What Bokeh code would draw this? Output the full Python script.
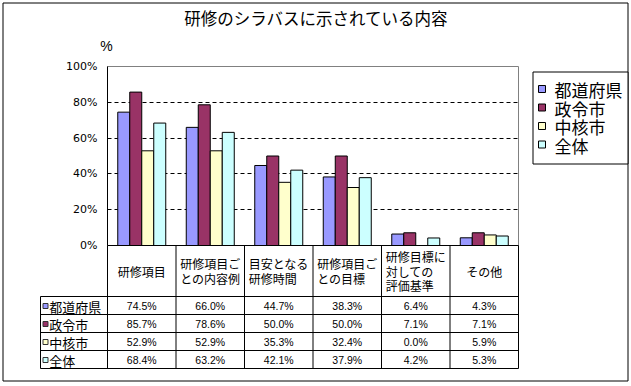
from bokeh.plotting import figure
from bokeh.models import (Range1d, FixedTicker, PrintfTickFormatter, Label, LabelSet,
                          ColumnDataSource)
from bokeh.core.properties import value
from bokeh.embed import file_html
from bokeh.resources import INLINE

# ---------------- data ----------------
title_text = "研修のシラバスに示されている内容"
categories = ["研修項目", "研修項目ご\nとの内容例", "目安となる\n研修時間",
              "研修項目ご\nとの目標", "研修目標に\n対しての\n評価基準", "その他"]
series_names = ["都道府県", "政令市", "中核市", "全体"]
todofuken = [74.5, 66.0, 44.7, 38.3, 6.4, 4.3]
seireishi = [85.7, 78.6, 50.0, 50.0, 7.1, 7.1]
chukakushi = [52.9, 52.9, 35.3, 32.4, 0.0, 5.9]
zentai = [68.4, 63.2, 42.1, 37.9, 4.2, 5.3]
y_ticks = [0, 20, 40, 60, 80, 100]
grid_ticks = [20, 40, 60, 80]
series_values = [todofuken, seireishi, chukakushi, zentai]
series_colors = ["#9999FF", "#993366", "#FFFFCC", "#CCFFFF"]

# ---------------- layout (canvas pixels) ----------------
W, H = 631, 386
FL, FR, FT, FB = 107, 518, 66, 245          # plot area
NC = len(categories)
CAT_W = (FR - FL) / NC
PXU = (FB - FT) / 100.0
HEADER_H = 51
ROW_H = 18
TBL_L = 40
BAR_PX = 12
BAR_W = BAR_PX / CAT_W
LEG_L, LEG_R, LEG_T, LEG_B = 532.5, 627.5, 71.5, 163.5
LEG_ROW = 18.5

def xd(px):
    return (px - FL) / CAT_W

def yd(py):
    return (FB - py) / PXU

JP = "Noto Sans CJK JP"
NUM = "Liberation Sans"

p = figure(width=W, height=H, output_backend="svg", toolbar_location=None,
           x_range=Range1d(xd(0), xd(W)), y_range=Range1d(yd(H), yd(0)),
           x_axis_location=None, min_border=0)
p.min_border_left = 0
p.min_border_right = 0
p.min_border_top = 0
p.min_border_bottom = 0
p.background_fill_color = "white"
p.border_fill_color = "white"
p.outline_line_color = None

# y axis drawn at the plot area's left edge
yax = p.yaxis[0]
yax.fixed_location = 0
yax.bounds = (0, 100)
yax.ticker = FixedTicker(ticks=y_ticks)
yax.formatter = PrintfTickFormatter(format="%d%%")
yax.major_tick_in = 0
yax.major_tick_out = 0
yax.minor_tick_in = 0
yax.minor_tick_out = 0
yax.axis_line_color = "black"
yax.major_label_standoff = 10
yax.major_label_text_font = "DejaVu Sans"
yax.major_label_text_font_size = "11px"
yax.major_label_text_color = "black"

p.xgrid.visible = False
p.ygrid.ticker = FixedTicker(ticks=grid_ticks)
p.ygrid.cross_bounds = (0, NC)
p.ygrid.grid_line_color = "black"
p.ygrid.grid_line_dash = "4 3"
p.ygrid.grid_line_width = 1

# plot area border (grey top / right)
p.quad(left=[0], right=[NC], bottom=[0], top=[100], fill_alpha=0,
       line_color="#808080", line_width=1, level="underlay")

# bars
for j, (name, vals, col) in enumerate(zip(series_names, series_values, series_colors)):
    xs = [i + 0.5 + (j - 1.5) * BAR_W for i in range(NC)]
    src = ColumnDataSource(dict(x=xs, top=vals))
    p.vbar(x="x", top="top", bottom=0, width=BAR_W, source=src,
           fill_color=col, line_color="black", line_width=1)

# data table grid lines
hdr_bottom = FB + HEADER_H
tbl_bottom = hdr_bottom + ROW_H * len(series_names)
x0s, y0s, x1s, y1s = [0], [0], [NC], [0]
for k in range(len(series_names) + 1):
    yy = yd(hdr_bottom + k * ROW_H)
    x0s.append(xd(TBL_L)); x1s.append(NC); y0s.append(yy); y1s.append(yy)
for k in range(NC + 1):
    x0s.append(k); x1s.append(k); y0s.append(0); y1s.append(yd(tbl_bottom))
x0s.append(xd(TBL_L)); x1s.append(xd(TBL_L)); y0s.append(yd(hdr_bottom)); y1s.append(yd(tbl_bottom))
p.segment(x0=x0s, y0=y0s, x1=x1s, y1=y1s, line_color="black", line_width=1)

# outer chart border
p.quad(left=[xd(2.5)], right=[xd(627.5)], top=[yd(2.5)], bottom=[yd(380.5)],
       fill_alpha=0, line_color="black", line_width=1)

# legend (box, swatches, labels)
p.quad(left=[xd(LEG_L)], right=[xd(LEG_R)], top=[yd(LEG_T)], bottom=[yd(LEG_B)],
       fill_color="white", line_color="black", line_width=1)
lg_cy = [LEG_T + 17 + k * LEG_ROW for k in range(len(series_names))]
p.quad(left=[xd(538)] * 4, right=[xd(545)] * 4,
       top=[yd(c - 3.5) for c in lg_cy], bottom=[yd(c + 3.5) for c in lg_cy],
       fill_color=series_colors, line_color="black", line_width=1)
p.add_layout(LabelSet(x="x", y="y", text="t",
                      source=ColumnDataSource(dict(x=[xd(554)] * 4,
                                                   y=[yd(c + 0.5) for c in lg_cy],
                                                   t=series_names)),
                      text_align="left", text_baseline="middle", text_font=value(JP),
                      text_font_size="17px", text_color="black"))

# title & unit
p.add_layout(Label(x=xd(315.7), y=yd(17), text=title_text, text_align="center",
                   text_baseline="middle", text_font=JP, text_font_size="16.5px",
                   text_color="black"))
p.add_layout(Label(x=xd(106), y=yd(45), text="%", text_align="center",
                   text_baseline="middle", text_font=NUM, text_font_size="14px",
                   text_color="black"))

# header labels
hdr_src = ColumnDataSource(dict(x=[i + 0.5 for i in range(NC)],
                                y=[yd(FB + HEADER_H / 2)] * NC,
                                t=categories))
p.add_layout(LabelSet(x="x", y="y", text="t", source=hdr_src, text_align="center",
                      text_baseline="middle", text_font=value(JP),
                      text_font_size="12px", text_color="black", text_line_height=0.85))

# row header swatches + names, and values
sw_l, sw_r, sw_t, sw_b = [], [], [], []
vx, vy, vt = [], [], []
nx, ny = [], []
for j, (name, vals) in enumerate(zip(series_names, series_values)):
    cy = hdr_bottom + j * ROW_H + ROW_H / 2
    sw_l.append(xd(TBL_L + 2.5)); sw_r.append(xd(TBL_L + 7.5))
    sw_t.append(yd(cy - 2)); sw_b.append(yd(cy + 3))
    nx.append(xd(TBL_L + 8.7)); ny.append(yd(cy + 0.5))
    for i, v in enumerate(vals):
        vx.append(i + 0.5)
        vy.append(yd(cy + 0.5))
        vt.append(f"{v:.1f}%")
p.quad(left=sw_l, right=sw_r, top=sw_t, bottom=sw_b, fill_color=series_colors,
       line_color="#333333", line_width=1)
p.add_layout(LabelSet(x="x", y="y", text="t",
                      source=ColumnDataSource(dict(x=nx, y=ny, t=series_names)),
                      text_align="left", text_baseline="middle", text_font=value(JP),
                      text_font_size="13px", text_color="black"))
p.add_layout(LabelSet(x="x", y="y", text="t", source=ColumnDataSource(dict(x=vx, y=vy, t=vt)),
                      text_align="center", text_baseline="middle", text_font=value(NUM),
                      text_font_size="10.5px", text_color="black"))

open("out.html", "w").write(file_html(p, INLINE))
